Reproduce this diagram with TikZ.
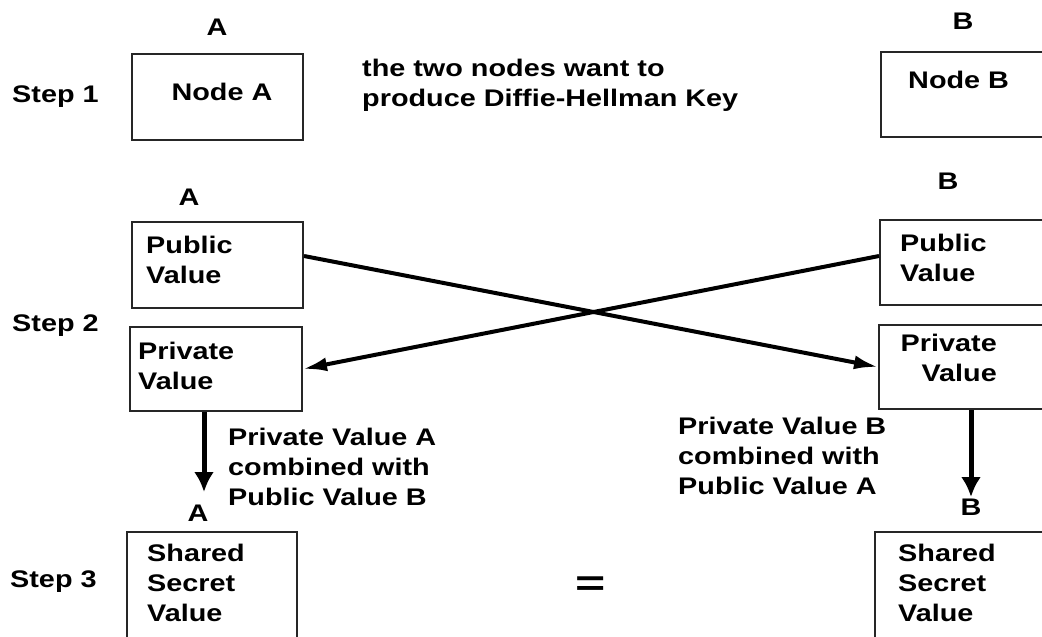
\documentclass[tikz,border=0pt]{standalone}
\usepackage{fontspec}
\setmainfont{Liberation Sans}[FakeStretch=1.2]
\usetikzlibrary{arrows.meta}
\begin{document}
\begin{tikzpicture}[x=1pt,y=-1pt,
  every node/.style={inner sep=0pt,font=\fontsize{24}{30}\selectfont\bfseries},
  box/.style={draw=black!85,line width=2pt,rectangle},
  lbl/.style={anchor=west,align=left},
  cross/.style={line width=4pt,-{Latex[length=24pt,width=14pt]}},
  down/.style={line width=5pt,-{Latex[length=20pt,width=20pt]}}]
\useasboundingbox (0,0) rectangle (1042,637);
% step labels
\node[lbl] (s1) at (12,97) {Step 1};
\node[lbl] (s2) at (12,326) {Step 2};
\node[lbl] (s3) at (10,582) {Step 3};
% step 1
\node (la1) at (217,27) {A};
\node (lb1) at (963,21) {B};
\node[box,minimum width=171,minimum height=86] (nodeA) at (217.5,97) {};
\node (tA) at (222,92) {Node A};
\node[box,minimum width=169,minimum height=85] (nodeB) at (965.5,94.5) {};
\node[lbl] (tB) at (908,80) {Node B};
\node[lbl] (dh) at (362,85) {the two nodes want to\\produce Diffie-Hellman Key};
% step 2
\node (la2) at (189,197) {A};
\node (lb2) at (948,181) {B};
\node[box,minimum width=171,minimum height=86] (pubA) at (217.5,265) {};
\node[lbl] at (146,260) {Public\\Value};
\node[box,minimum width=172,minimum height=84] (privA) at (216,369) {};
\node[lbl] at (138,366) {Private\\Value};
\node[box,minimum width=170,minimum height=85] (pubB) at (965,262.5) {};
\node[lbl] at (900,258) {Public\\Value};
\node[box,minimum width=171,minimum height=84] (privB) at (964.5,367) {};
\node[anchor=east,align=right] at (997,358) {Private\\Value};
\draw[cross] ([yshift=9pt]pubA.east) -- (privB.west);
\draw[cross] ([yshift=6.5pt]pubB.west) -- (privA.east);
% combine
\coordinate (ea) at (204,492);
\coordinate (eb) at (971,497);
\draw[down] ([xshift=-12pt]privA.south) -- (ea);
\draw[down] ([xshift=6.5pt]privB.south) -- (eb);
\node[lbl] (ca) at (228,467) {Private Value A\\combined with\\Public Value B};
\node[lbl] (cb) at (678,456) {Private Value B\\combined with\\Public Value A};
% step 3
\node (la3) at (198,513) {A};
\node (lb3) at (971,507) {B};
\node[box,minimum width=170,minimum height=118] (shA) at (212,591) {};
\node[lbl] at (147,583) {Shared\\Secret\\Value};
\node[box,minimum width=175,minimum height=118] (shB) at (962.5,591) {};
\node[lbl] at (898,583) {Shared\\Secret\\Value};
\node[xscale=1.8,yscale=1.5] (eq) at (591,586) {=};
\end{tikzpicture}
\end{document}
